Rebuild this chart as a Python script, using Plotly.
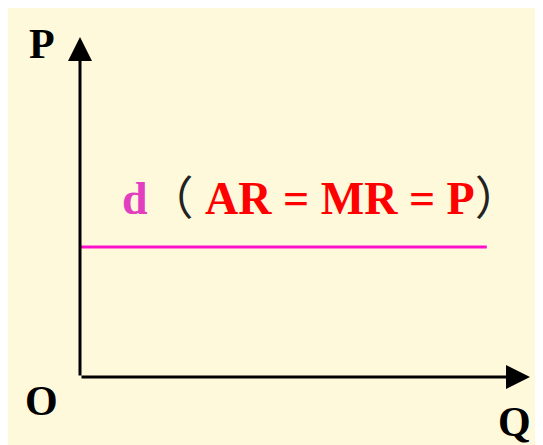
import plotly.graph_objects as go

# axis extents (arrow tips) in chart units
q_axis = [0, 10]
p_axis = [0, 10]

# demand curve d: horizontal at the market price
d_q = [0, 9.04]
d_p = [3.82, 3.82]

axis_labels = ["P", "O", "Q"]
curve_label = "d"
curve_note = "AR = MR = P"

BG = "#FFF9DC"
SERIF = "Liberation Serif, Times New Roman, serif"

fig = go.Figure()

fig.add_trace(
    go.Scatter(
        x=d_q,
        y=d_p,
        mode="lines",
        line={"color": "#FF10CC", "width": 3},
        hoverinfo="skip",
        showlegend=False,
    )
)

# axes with arrowheads
for tip, tail in [((q_axis[1], 0), (0, 0)), ((0, p_axis[1]), (0, 0))]:
    fig.add_annotation(
        x=tip[0], y=tip[1], ax=tail[0], ay=tail[1],
        xref="x", yref="y", axref="x", ayref="y",
        showarrow=True, arrowhead=2, arrowsize=1.6, arrowwidth=3,
        arrowcolor="black", text="",
    )

label_font = {"family": SERIF, "size": 42, "color": "black"}
fig.add_annotation(x=-0.85, y=p_axis[1] - 0.2, text="<b>" + axis_labels[0] + "</b>",
                   showarrow=False, font=label_font)
fig.add_annotation(x=-0.85, y=-0.7, text="<b>" + axis_labels[1] + "</b>",
                   showarrow=False, font=label_font)
fig.add_annotation(x=q_axis[1] - 0.35, y=-1.33, text="<b>" + axis_labels[2] + "</b>",
                   showarrow=False, font=label_font)

fig.add_annotation(
    x=0.88, y=d_p[0] + 1.55, xanchor="left",
    text=(
        "<span style='color:#E23EC0'><b>" + curve_label + "</b></span>"
        "<span style='font-family:Noto Sans CJK SC;color:#222'>（</span> "
        "<b>" + curve_note + "</b>"
        "<span style='font-family:Noto Sans CJK SC;color:#222'>）</span>"
    ),
    showarrow=False,
    font={"family": SERIF, "size": 46, "color": "#FF0000"},
)

# the page adds an 8px white margin top/left, so the figure is 8px smaller
fig.update_xaxes(range=[-72 / 45, 463 / 45], visible=False, fixedrange=True)
fig.update_yaxes(range=[-68 / 34, 369 / 34], visible=False, fixedrange=True)

fig.update_layout(
    width=535,
    height=437,
    margin={"l": 0, "r": 0, "t": 0, "b": 0},
    paper_bgcolor=BG,
    plot_bgcolor=BG,
)

fig.write_html("out.html")
